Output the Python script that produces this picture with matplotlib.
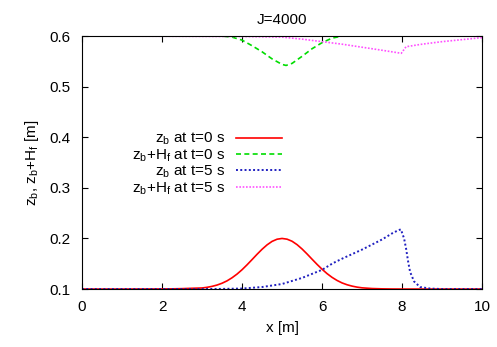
import matplotlib
matplotlib.use("Agg")
import matplotlib.pyplot as plt

plt.rcParams['font.family'] = ['Liberation Sans', 'DejaVu Sans']
plt.rcParams['mathtext.default'] = 'regular'

title = "J=4000"

x_red = [0, 1, 2, 2.25, 2.5, 2.75, 3, 3.125, 3.25, 3.375, 3.5, 3.625, 3.75, 3.875, 4, 4.125, 4.25, 4.375,
         4.5, 4.625, 4.75, 4.875, 5, 5.125, 5.25, 5.375, 5.5, 5.625, 5.75, 5.875, 6, 6.125, 6.25,
         6.375, 6.5, 6.625, 6.75, 6.875, 7, 7.25, 7.5, 7.75, 8, 9, 10]
zb_t0 = [0.1, 0.1, 0.1002, 0.1004, 0.1008, 0.1015, 0.1021, 0.1034, 0.1053, 0.1079, 0.1115, 0.1162, 0.1223,
         0.1296, 0.1382, 0.1479, 0.1582, 0.1687, 0.1786, 0.1873, 0.1942, 0.1985, 0.2,
         0.1986, 0.1945, 0.1878, 0.1792, 0.1694, 0.1590, 0.1488, 0.1392, 0.1305, 0.1231, 0.1170,
         0.1121, 0.1085, 0.1058, 0.1038, 0.1024, 0.1010, 0.1004, 0.1001, 0.1, 0.1, 0.1]

x_green = [0, 3, 3.5, 3.75, 4, 4.25, 4.5, 4.75, 5, 5.1, 5.25, 5.5, 5.75, 6, 6.25, 6.5, 8, 10]
zbh_t0 = [0.6, 0.6, 0.6, 0.598, 0.592, 0.581, 0.569, 0.555, 0.544, 0.542, 0.546, 0.560, 0.575, 0.587,
          0.596, 0.6, 0.6, 0.6]

x_blue = [0, 3, 3.5, 4, 4.5, 5, 5.5, 6, 6.27, 6.5, 7, 7.5, 7.75, 7.9, 7.97, 8.05, 8.1, 8.15, 8.2, 8.3,
          8.45, 8.7, 9, 10]
zb_t5 = [0.1, 0.1, 0.1003, 0.101, 0.104, 0.11, 0.122, 0.138, 0.151, 0.16, 0.178, 0.198, 0.21, 0.216,
         0.218, 0.2, 0.18, 0.155, 0.134, 0.115, 0.104, 0.101, 0.1, 0.1]

x_pink = [0, 2, 4, 5, 5.5, 6, 6.5, 7, 7.5, 7.98, 8.1, 8.5, 9, 9.5, 10]
zbh_t5 = [0.6, 0.5997, 0.5992, 0.598, 0.594, 0.589, 0.584, 0.578, 0.572, 0.566, 0.579, 0.584, 0.589,
          0.593, 0.597]

labels = [r"$z_b$ at t=0 s", r"$z_b$+$H_f$ at t=0 s", r"$z_b$ at t=5 s", r"$z_b$+$H_f$ at t=5 s"]
xticks = [0, 2, 4, 6, 8, 10]
yticks = [0.1, 0.2, 0.3, 0.4, 0.5, 0.6]

fig = plt.figure(figsize=(4.97, 3.47), dpi=100)
ax = fig.add_axes([0.165, 0.167, 0.805, 0.729])

ax.plot(x_red, zb_t0, color='#ff0000', lw=1.2, label=labels[0])
ax.plot(x_green, zbh_t0, color='#00dd00', lw=1.2, ls=(0, (3, 2)), label=labels[1])
ax.plot(x_blue, zb_t5, color='#2020c0', lw=1.4, ls=(0, (1, 1.2)), label=labels[2])
ax.plot(x_pink, zbh_t5, color='#ff50ff', lw=1.2, ls=(0, (1, 1)), label=labels[3])

ax.set_xlim(0, 10)
ax.set_ylim(0.1, 0.6)
ax.set_xticks(xticks)
ax.set_yticks(yticks)
ax.set_xticklabels([str(t) for t in xticks])
ax.set_yticklabels([f"{t:.1f}" for t in yticks])
ax.tick_params(direction='in', top=True, right=True, labelsize=11, length=4, pad=8)
for s in ax.spines.values():
    s.set_linewidth(0.8)
ax.set_xlabel("x [m]", fontsize=11, labelpad=5)
ax.set_ylabel(r"$z_b$, $z_b$+$H_f$ [m]", fontsize=11, labelpad=6)
ax.set_title(title, fontsize=11, pad=9)

leg = ax.legend(loc='upper right', bbox_to_anchor=(0.5, 0.625), frameon=False, markerfirst=False,
                fontsize=11, handlelength=3.0, handletextpad=0.72, labelspacing=0.0, borderpad=0,
                borderaxespad=0)

fig.savefig("out.png", dpi=100)
